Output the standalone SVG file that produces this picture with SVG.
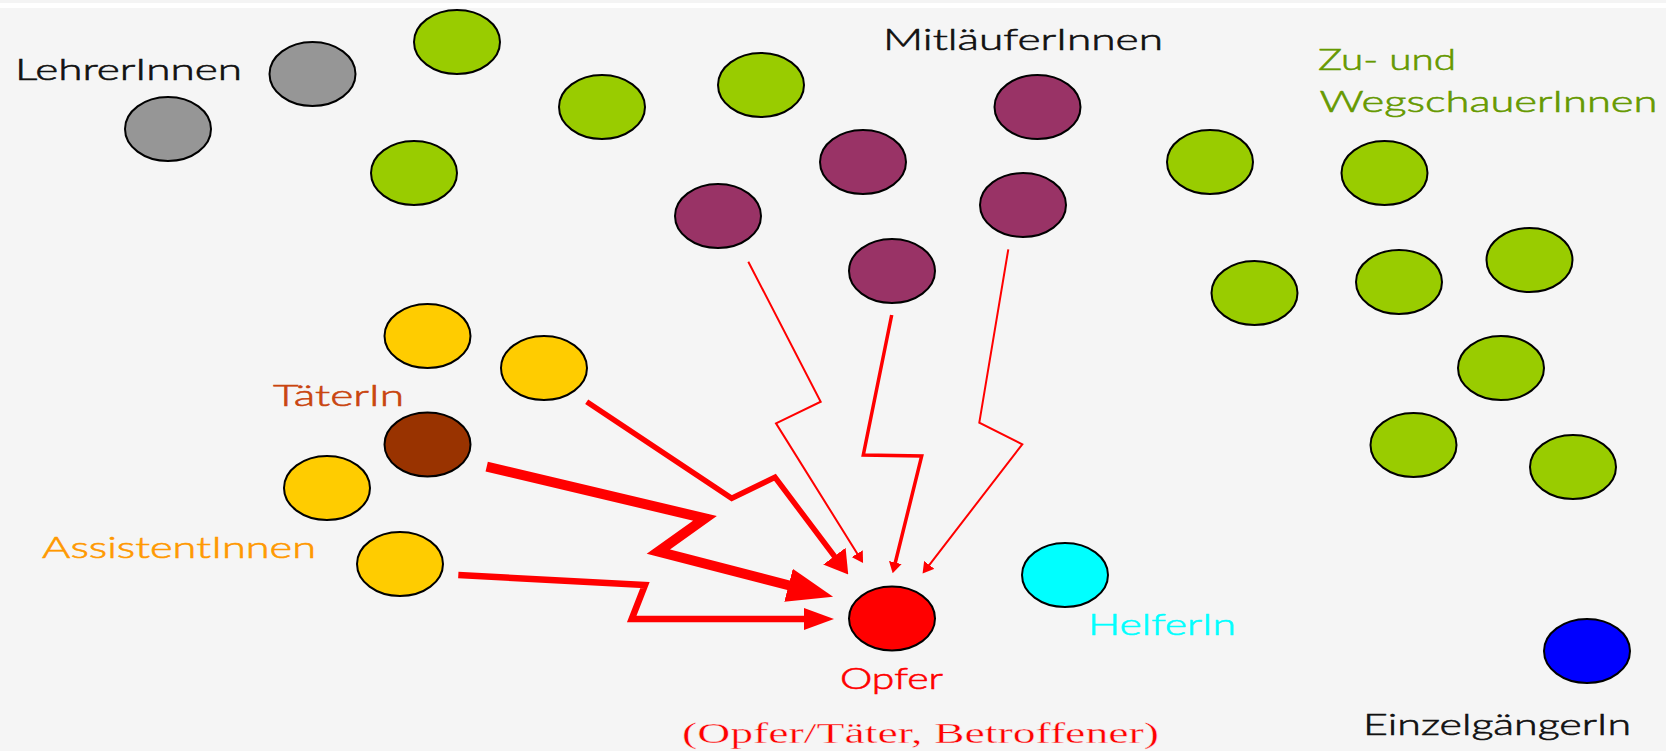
<svg xmlns="http://www.w3.org/2000/svg" width="1666" height="755" viewBox="0 0 1666 755">
  <style>
    .node { stroke: #000; stroke-width: 2; }
    .grey { fill: #969696; }
    .green { fill: #99cc00; }
    .purple { fill: #993366; }
    .yellow { fill: #ffcc00; }
    .brown { fill: #993300; }
    .red { fill: #ff0000; }
    .cyan { fill: #00ffff; }
    .blue { fill: #0000ff; }
    .label { font-family: Lato, "Open Sans", "Liberation Sans", sans-serif; font-size: 30px; font-weight: 300; stroke-width: 0.6px; }
    .serif { font-family: "Liberation Serif", "Times New Roman", serif; font-size: 30px; stroke: #f5f5f5; stroke-width: 0.35px; }
    .link { fill: none; stroke: #ff0000; stroke-linejoin: miter; stroke-miterlimit: 10; }
  </style>
  <defs>
    <!-- arrowheads: x=0 is the base of the head, the tip is at the far end -->
    <marker id="head-s" viewBox="0 -6.5 11 13" refX="0.5" refY="0" markerWidth="11" markerHeight="13" markerUnits="userSpaceOnUse" orient="auto">
      <path d="M0,-6.5 L11,0 L0,6.5 Z" fill="#ff0000"/>
    </marker>
    <marker id="head-m" viewBox="0 -14 23 28" refX="1" refY="0" markerWidth="23" markerHeight="28" markerUnits="userSpaceOnUse" orient="auto">
      <path d="M0,-14 L23,0 L0,14 Z" fill="#ff0000"/>
    </marker>
    <marker id="head-l" viewBox="0 -17 46 34" refX="1" refY="0" markerWidth="46" markerHeight="34" markerUnits="userSpaceOnUse" orient="auto">
      <path d="M0,-17 L46,0 L0,17 Z" fill="#ff0000"/>
    </marker>
    <marker id="head-b" viewBox="0 -11 30 22" refX="1" refY="0" markerWidth="30" markerHeight="22" markerUnits="userSpaceOnUse" orient="auto">
      <path d="M0,-11 L30,0 L0,11 Z" fill="#ff0000"/>
    </marker>
  </defs>

  <!-- slide background -->
  <rect x="0" y="0" width="1666" height="755" fill="#ffffff"/>
  <rect x="0" y="0" width="1666" height="3" fill="#f4f4f4"/>
  <rect x="0" y="8" width="1666" height="743" fill="#f5f5f5"/>

  <!-- teachers -->
  <g id="lehrer">
    <ellipse class="node grey" cx="168" cy="129" rx="43" ry="32"/>
    <ellipse class="node grey" cx="312.5" cy="74" rx="43" ry="32"/>
    <text class="label" x="15" y="80" fill="#111111" stroke="#111111" textLength="227" lengthAdjust="spacingAndGlyphs">LehrerInnen</text>
  </g>

  <!-- onlookers and bystanders -->
  <g id="zuschauer">
    <ellipse class="node green" cx="457" cy="42" rx="43" ry="32"/>
    <ellipse class="node green" cx="414" cy="173" rx="43" ry="32"/>
    <ellipse class="node green" cx="602" cy="107" rx="43" ry="32"/>
    <ellipse class="node green" cx="761" cy="85" rx="43" ry="32"/>
    <ellipse class="node green" cx="1210" cy="162" rx="43" ry="32"/>
    <ellipse class="node green" cx="1384.5" cy="173" rx="43" ry="32"/>
    <ellipse class="node green" cx="1529.5" cy="260" rx="43" ry="32"/>
    <ellipse class="node green" cx="1254.5" cy="293" rx="43" ry="32"/>
    <ellipse class="node green" cx="1399" cy="282" rx="43" ry="32"/>
    <ellipse class="node green" cx="1501" cy="368" rx="43" ry="32"/>
    <ellipse class="node green" cx="1413.5" cy="445" rx="43" ry="32"/>
    <ellipse class="node green" cx="1573" cy="467" rx="43" ry="32"/>
    <text class="label" x="1318" y="70" fill="#669900" stroke="#669900" textLength="138" lengthAdjust="spacingAndGlyphs">Zu- und</text>
    <text class="label" x="1319.5" y="112" fill="#669900" stroke="#669900" textLength="338" lengthAdjust="spacingAndGlyphs">WegschauerInnen</text>
  </g>

  <!-- followers -->
  <g id="mitlaeufer">
    <ellipse class="node purple" cx="1037.5" cy="107" rx="43" ry="32"/>
    <ellipse class="node purple" cx="863" cy="162" rx="43" ry="32"/>
    <ellipse class="node purple" cx="718" cy="216" rx="43" ry="32"/>
    <ellipse class="node purple" cx="1023" cy="205" rx="43" ry="32"/>
    <ellipse class="node purple" cx="892" cy="271" rx="43" ry="32"/>
    <text class="label" x="883" y="50" fill="#111111" stroke="#111111" textLength="280" lengthAdjust="spacingAndGlyphs">MitläuferInnen</text>
  </g>

  <!-- assistants -->
  <g id="assistenten">
    <ellipse class="node yellow" cx="427.5" cy="336" rx="43" ry="32"/>
    <ellipse class="node yellow" cx="544" cy="368" rx="43" ry="32"/>
    <ellipse class="node yellow" cx="327" cy="488" rx="43" ry="32"/>
    <ellipse class="node yellow" cx="400" cy="564" rx="43" ry="32"/>
    <text class="label" x="42" y="558" fill="#ff9900" stroke="#ff9900" textLength="274" lengthAdjust="spacingAndGlyphs">AssistentInnen</text>
  </g>

  <!-- perpetrator -->
  <g id="taeter">
    <ellipse class="node brown" cx="427.5" cy="444.5" rx="43" ry="32"/>
    <text class="label" x="273" y="406" fill="#c9450f" stroke="#c9450f" textLength="131" lengthAdjust="spacingAndGlyphs">TäterIn</text>
  </g>

  <!-- victim -->
  <g id="opfer">
    <ellipse class="node red" cx="892" cy="618.5" rx="43" ry="32"/>
    <text class="label" x="840" y="689" fill="#ff0000" stroke="#ff0000" textLength="103" lengthAdjust="spacingAndGlyphs">Opfer</text>
    <text class="serif" x="682" y="743" fill="#ff0000" textLength="477" lengthAdjust="spacingAndGlyphs">(Opfer/Täter, Betroffener)</text>
  </g>

  <!-- helper -->
  <g id="helfer">
    <ellipse class="node cyan" cx="1065" cy="575" rx="43" ry="32"/>
    <text class="label" x="1088" y="635" fill="#00ffff" stroke="#00ffff" textLength="148" lengthAdjust="spacingAndGlyphs">HelferIn</text>
  </g>

  <!-- loner -->
  <g id="einzelgaenger">
    <ellipse class="node blue" cx="1587" cy="651" rx="43" ry="32"/>
    <text class="label" x="1363" y="735" fill="#111111" stroke="#111111" textLength="268" lengthAdjust="spacingAndGlyphs">EinzelgängerIn</text>
  </g>

  <!-- zigzag attack arrows towards the victim -->
  <g id="connectors">
    <path class="link" stroke-width="2" d="M748.3,261.7 L820.7,401.7 L776,423.3 L857.5,554" marker-end="url(#head-s)"/>
    <path class="link" stroke-width="3.5" d="M891.7,315 L863.3,455 L921.7,456 L895.2,563" marker-end="url(#head-s)"/>
    <path class="link" stroke-width="2" d="M1008.3,249.3 L979.3,422.7 L1022.3,444.3 L929,565.3" marker-end="url(#head-s)"/>
    <path class="link" stroke-width="5.5" d="M586.7,401.7 L731.7,498.3 L775,477.3 L835,557" marker-end="url(#head-m)"/>
    <path class="link" stroke-width="10" d="M486.7,466.7 L705,518.3 L658.3,551.7 L789.5,585.5" marker-end="url(#head-l)"/>
    <path class="link" stroke-width="6.5" d="M458.3,575 L645,585 L631.7,619 L805,619" marker-end="url(#head-b)"/>
  </g>
</svg>
